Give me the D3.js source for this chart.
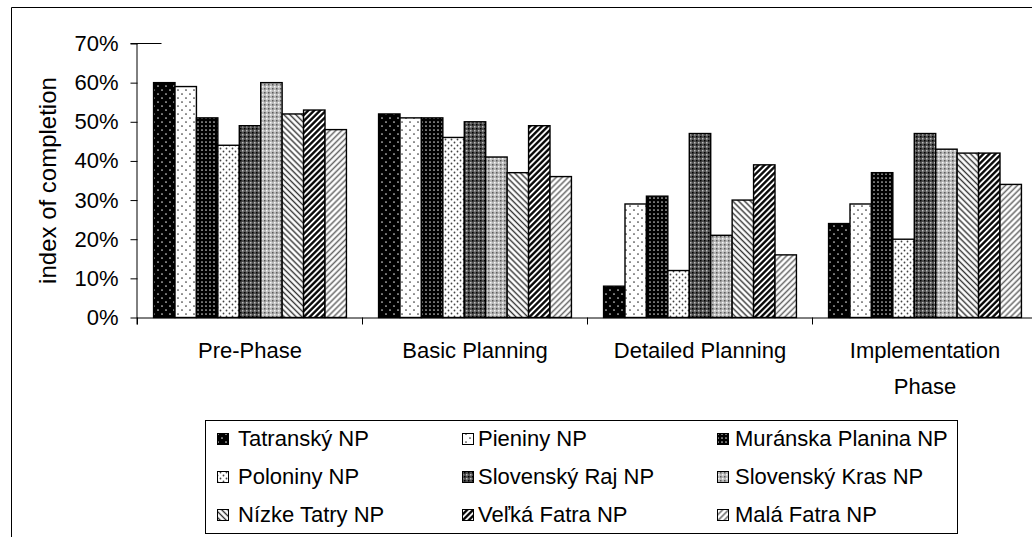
<!DOCTYPE html>
<html><head><meta charset="utf-8">
<script src="https://cdnjs.cloudflare.com/ajax/libs/d3/7.8.5/d3.min.js"></script>
<style>
html,body{margin:0;padding:0;background:#fff;}
svg text{font-family:"Liberation Sans",Arial,sans-serif;fill:#000;}
</style></head>
<body>
<svg id="chart" width="1032" height="537"></svg>
<script>
const categories = ["Pre-Phase", "Basic Planning", "Detailed Planning", "Implementation Phase"];
const seriesNames = ["Tatranský NP", "Pieniny NP", "Muránska Planina NP", "Poloniny NP", "Slovenský Raj NP", "Slovenský Kras NP", "Nízke Tatry NP", "Veľká Fatra NP", "Malá Fatra NP"];
const tatransky = [60, 52, 8, 24];
const pieniny   = [59, 51, 29, 29];
const muranska  = [51, 51, 31, 37];
const poloniny  = [44, 46, 12, 20];
const slovRaj   = [49, 50, 47, 47];
const slovKras  = [60, 41, 21, 43];
const nizkeTatry= [52, 37, 30, 42];
const velkaFatra= [53, 49, 39, 42];
const malaFatra = [48, 36, 16, 34];
const seriesValues = [tatransky, pieniny, muranska, poloniny, slovRaj, slovKras, nizkeTatry, velkaFatra, malaFatra];
const yTicks = [0, 10, 20, 30, 40, 50, 60, 70];

const svg = d3.select("#chart");
const defs = svg.append("defs");

function dotPattern(id, w, h, bg, fg, r, pts) {
  const p = defs.append("pattern").attr("id", id).attr("patternUnits", "userSpaceOnUse")
    .attr("width", w).attr("height", h);
  p.append("rect").attr("width", w).attr("height", h).attr("fill", bg);
  pts.forEach(([x, y]) => p.append("circle").attr("cx", x).attr("cy", y).attr("r", r).attr("fill", fg));
}
function hatchPattern(id, angle, spacing, color, sw) {
  const p = defs.append("pattern").attr("id", id).attr("patternUnits", "userSpaceOnUse")
    .attr("width", spacing).attr("height", spacing).attr("patternTransform", `rotate(${angle})`);
  p.append("rect").attr("width", spacing).attr("height", spacing).attr("fill", "#fff");
  p.append("line").attr("x1", spacing / 2).attr("x2", spacing / 2).attr("y1", 0).attr("y2", spacing)
    .attr("stroke", color).attr("stroke-width", sw);
}
function crossPattern(id, bg, dark, light) {
  const p = defs.append("pattern").attr("id", id).attr("patternUnits", "userSpaceOnUse")
    .attr("width", 4).attr("height", 4);
  p.append("rect").attr("width", 4).attr("height", 4).attr("fill", bg);
  p.append("rect").attr("x", 0).attr("y", 0).attr("width", 1.5).attr("height", 1.5).attr("fill", dark);
  p.append("rect").attr("x", 2).attr("y", 2).attr("width", 1.5).attr("height", 1.5).attr("fill", light);
}
dotPattern("p0", 8, 8, "#000", "#d8d8d8", 0.85, [[2, 2], [6, 6]]);
dotPattern("p1", 8, 8, "#fff", "#333", 0.85, [[2, 2], [6, 6]]);
dotPattern("p2", 4, 4, "#000", "#cfcfcf", 0.85, [[2, 2]]);
dotPattern("p3", 6, 6, "#fff", "#444", 0.9, [[1.5, 1.5], [4.5, 4.5]]);
crossPattern("p4", "#505050", "#000", "#bdbdbd");
crossPattern("p5", "#b8b8b8", "#5a5a5a", "#f6f6f6");
hatchPattern("p6", -45, 4.2, "#333", 1.4);
hatchPattern("p7", 45, 4.2, "#000", 2.3);
hatchPattern("p8", 45, 4.2, "#666", 1.5);

// outer chart border (cropped)
svg.append("path").attr("d", "M11.5,537 V7.5 H1032").attr("fill", "none").attr("stroke", "#000").attr("stroke-width", 1);

const plotLeft = 137.5, groupW = 225;
const x0 = d3.scaleBand().domain(categories).range([plotLeft, plotLeft + categories.length * groupW]).padding(0);
const x1 = d3.scaleBand().domain(seriesNames).range([0, x0.bandwidth()]).paddingInner(0).paddingOuter(0.75);
const y = d3.scaleLinear().domain([0, 70]).range([317.5, 43.5]);

// bars
seriesNames.forEach((name, si) => {
  svg.append("g").selectAll("rect").data(seriesValues[si]).join("rect")
    .attr("x", (d, i) => x0(categories[i]) + x1(name))
    .attr("y", d => y(d))
    .attr("width", x1.bandwidth())
    .attr("height", d => y(0) - y(d))
    .attr("fill", `url(#p${si})`)
    .attr("stroke", "#000").attr("stroke-width", 1.4);
});

// y axis
const yAxis = d3.axisLeft(y).tickValues(yTicks).tickFormat(d => d + "%").tickSize(7).tickPadding(12);
const gy = svg.append("g").attr("transform", `translate(${plotLeft},0)`).call(yAxis);
gy.select(".domain").attr("stroke", "#000").attr("d", `M-0.5,${y(70)}V${y(0) + 7}`);
gy.selectAll(".tick line").attr("stroke", "#000");
gy.selectAll(".tick text").style("font-size", "22px").style("font-family", '"Liberation Sans",Arial,sans-serif').attr("fill", "#000");
// short top line at 70%
svg.append("line").attr("x1", plotLeft - 7).attr("x2", plotLeft + 24).attr("y1", y(70)).attr("y2", y(70)).attr("stroke", "#000");

// x axis
const xAxis = d3.axisBottom(x0).tickSize(0).tickFormat("");
const gx = svg.append("g").attr("transform", `translate(0,${y(0)})`).call(xAxis);
gx.select(".domain").attr("stroke", "#000").attr("d", `M${plotLeft},0.5H1032`);
// group boundary ticks
const boundaries = categories.map(c => x0(c)).concat([x0(categories[categories.length - 1]) + x0.bandwidth()]);
svg.append("g").selectAll("line").data(boundaries).join("line")
  .attr("x1", d => Math.round(d) - 0.5).attr("x2", d => Math.round(d) - 0.5)
  .attr("y1", y(0)).attr("y2", y(0) + 7).attr("stroke", "#000");

// category labels (wrapped)
const catLines = {"Pre-Phase": ["Pre-Phase"], "Basic Planning": ["Basic Planning"], "Detailed Planning": ["Detailed Planning"], "Implementation Phase": ["Implementation", "Phase"]};
categories.forEach(c => {
  const t = svg.append("text").attr("x", x0(c) + x0.bandwidth() / 2).attr("y", 358)
    .attr("text-anchor", "middle").style("font-size", "22px");
  catLines[c].forEach((ln, i) => t.append("tspan").attr("x", x0(c) + x0.bandwidth() / 2).attr("dy", i === 0 ? 0 : 36).text(ln));
});

// y title
svg.append("text").attr("transform", `translate(56,${(y(0) + y(70)) / 2}) rotate(-90)`)
  .attr("text-anchor", "middle").style("font-size", "24px").text("index of completion");

// legend
svg.append("rect").attr("x", 205.5).attr("y", 420.5).attr("width", 752).attr("height", 113)
  .attr("fill", "#fff").attr("stroke", "#000").attr("stroke-width", 1);
const legSymX = [217, 462, 717], legTxtX = [238, 478, 735], legBase = [446, 484, 522];
seriesNames.forEach((name, i) => {
  const col = i % 3, row = Math.floor(i / 3);
  svg.append("rect").attr("x", legSymX[col] + 0.5).attr("y", legBase[row] - 12.5).attr("width", 11).attr("height", 11)
    .attr("fill", `url(#p${i})`).attr("stroke", "#000").attr("stroke-width", 1);
  svg.append("text").attr("x", legTxtX[col]).attr("y", legBase[row]).style("font-size", "22px").text(name);
});
</script>
</body></html>
